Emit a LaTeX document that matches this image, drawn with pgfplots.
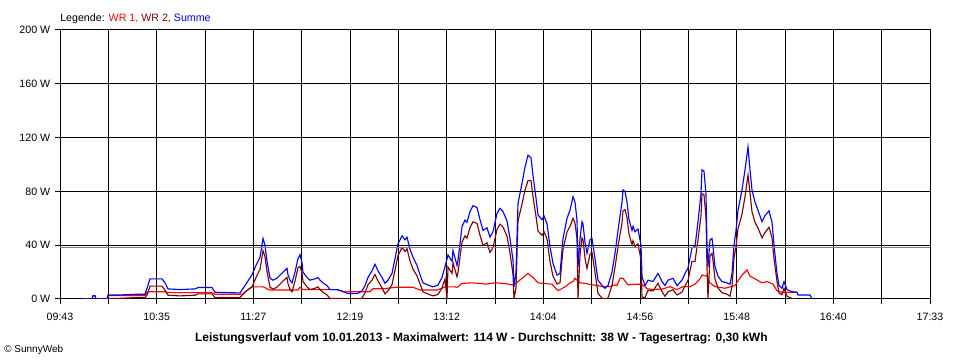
\documentclass[border=0pt]{standalone}
\usepackage{pgfplots}
\pgfplotsset{compat=1.18}
\usepackage{fontspec}
\setmainfont{Liberation Sans}
\definecolor{wrone}{HTML}{FF0000}
\definecolor{wrtwo}{HTML}{800000}
\definecolor{summe}{HTML}{0000FF}
\definecolor{avg}{HTML}{808080}
\begin{document}
\begin{tikzpicture}[x=1pt,y=1pt]
\useasboundingbox (0,0) rectangle (720,270);
\begin{axis}[
  at={(45pt,45.75pt)}, anchor=south west,
  scale only axis, width=652.5pt, height=201.75pt,
  xmin=60, xmax=930, ymin=0, ymax=200,
  xtick={60,108.33,156.67,205,253.33,301.67,350,398.33,446.67,495,543.33,591.67,640,688.33,736.67,785,833.33,881.67,930},
  xticklabels={09:43,,10:35,,11:27,,12:19,,13:12,,14:04,,14:56,,15:48,,16:40,,17:33},
  ytick={0,40,80,120,160,200},
  yticklabels={0 W,40 W,80 W,120 W,160 W,200 W},
  grid=major,
  major grid style={black, line width=0.75pt},
  axis line style={black, line width=0.75pt},
  tick style={black, line width=0.75pt},
  tick align=outside, major tick length=3.75pt,
  xtick pos=bottom, ytick pos=left,
  tick label style={font=\fontsize{8}{9}\selectfont},
  xticklabel style={yshift=-3.5pt},
  /pgf/number format/assume math mode=true,
]
\addplot[wrone, line width=0.85pt] coordinates {
(82,0)(92,0)(93,2.5)(95,2.5)(96,0)(107,0)(108,2.5)(145,2.5)(147,5)(150,5.4)(165,5.4)(168,4.7)(212,4.7)(215,3.5)(242,3.5)(245,4.7)(248,7)(252,9)(263,9)(265,8.5)(267,7.5)(270,6.7)(298,6.7)(300,8.7)(303,7)(337,7)(343,5.4)(370,5.4)(373,7.6)(383,7.6)(396,8.7)(413,8.7)(420,6.7)(437,6.7)(440,7.5)(445,9)(455,9)(457,8.5)(462,11.6)(472,12)(482,11.5)(485,11)(495,12)(505,11.5)(512,10.5)(515,11)(522,15.4)(528,19)(533,16)(538,12)(545,11.5)(552,11)(558,6.2)(565,9)(570,12)(573,13)(575,15.4)(577,14)(580,12)(585,11.6)(590,10.8)(597,10)(603,9.2)(610,9.2)(615,10.5)(617,10)(620,15.4)(623,15.4)(628,10.5)(635,11)(642,11)(647,7.7)(653,7)(663,7.5)(670,9.2)(677,7)(683,9.2)(690,9.2)(695,11)(700,15)(702,17.8)(707,17)(710,12)(715,9.2)(725,8)(735,10)(742,17.8)(747,21.6)(750,17)(755,15)(762,12)(767,13)(773,11)(777,6)(782,5)(797,5)
};
\addplot[wrtwo, line width=0.85pt] coordinates {
(82,0)(107,0)(108,0.5)(120,0.5)(135,1)(145,1)(147,3)(150,9.6)(162,9.6)(165,6.6)(168,2.8)(180,2.3)(195,2.8)(198,3.8)(212,3.8)(215,1)(240,1)(245,5.3)(252,9)(256,16)(260,22)(263,36)(265,31.5)(267,20.5)(270,8.8)(273,7.3)(277,8.8)(280,11.1)(283,13.3)(287,16.1)(288,11.3)(290,7.3)(292,5.3)(295,13.3)(298,23.3)(300,24.3)(302,19.5)(303,13)(307,9)(310,7)(315,8)(318,9)(320,7)(323,5)(327,3)(330,0.5)(337,0.5)(342,0.3)(347,0)(358,0)(362,0.6)(365,4.6)(368,10.6)(372,14.1)(375,18.2)(378,13.4)(382,8.4)(385,3.8)(388,6)(392,10.7)(395,21.4)(398,32.3)(402,38.3)(405,35.3)(407,37.3)(410,28.3)(413,22.3)(417,17.2)(420,11.3)(423,5.3)(428,3.7)(433,2.3)(438,3.4)(442,8)(445,15)(447,0)(448,23.7)(452,19)(453,27)(457,16.5)(458,20)(460,31)(462,42.2)(465,47)(467,45.2)(470,53.1)(473,57.4)(477,56.2)(480,47.4)(483,39.8)(487,41.8)(490,34.5)(493,38.2)(497,51.8)(500,55.7)(503,53.4)(507,46.7)(510,34.2)(513,18.3)(514,0)(516,8.5)(518,58)(522,70.6)(525,81)(528,88)(531,88)(533,76)(536,61.5)(538,50.5)(542,47.3)(544,50.1)(547,44.7)(550,27.9)(553,17)(557,11.1)(560,12.1)(563,36.9)(567,49.8)(570,54)(573,60)(575,56.6)(577,44.7)(578,0)(580,33)(582,45.5)(583,44.1)(585,30.4)(587,22.7)(590,33.2)(592,34.4)(595,19.8)(598,4.1)(602,0.6)(605,0)(608,0.8)(612,10.1)(615,23.5)(618,39)(622,56.6)(623,65.6)(625,66.5)(627,60.6)(629,48.4)(632,40.3)(633,43.3)(635,39)(638,41)(641,29)(642,1.5)(645,1)(648,6.4)(653,6)(658,11.7)(662,5.5)(665,2)(668,5.3)(673,6.9)(677,3)(682,5.1)(685,9.8)(688,13.8)(692,28)(695,28)(698,44)(701,62)(702,78.2)(704,77.4)(706,60.8)(707,23)(708,0.5)(710,32)(712,34)(713,28.5)(715,14.8)(718,8.2)(722,4.6)(727,3.6)(730,2)(732,9.6)(734,30.2)(736,39.2)(738,52.2)(742,63.2)(745,76)(748,92.3)(750,79)(752,64.8)(755,57)(758,52.7)(762,45.5)(765,49.4)(769,53.3)(772,45.7)(774,30)(777,13)(779,4.5)(782,3.2)(784,7.9)(787,2)(792,0.4)(795,0)
};
\addplot[summe, line width=0.85pt] coordinates {
(82,0)(92,0)(93,2.5)(95,2.5)(96,0)(107,0)(108,3)(120,3)(135,3.5)(145,3.5)(147,8)(150,15)(162,15)(165,12)(168,7.5)(180,7)(195,7.5)(198,8.5)(212,8.5)(215,5)(240,4.5)(245,10)(252,18)(256,25)(260,31)(263,45)(265,40)(267,28)(270,15.5)(273,14)(277,15.5)(280,17.8)(283,20)(287,22.8)(288,18)(290,14)(292,12)(295,20)(298,30)(300,33)(302,27)(303,20)(307,16)(310,14)(315,15)(318,16)(320,14)(323,12)(327,10)(330,7)(337,7)(342,6)(347,4.2)(353,4)(358,4.2)(362,6)(365,10)(368,16)(372,21)(375,25.8)(378,21)(382,16)(385,11.6)(388,14)(392,19)(395,30)(398,41)(402,47)(405,44)(407,46)(410,37)(413,31)(417,25)(420,18)(423,12)(428,10.4)(433,9)(438,10.4)(442,16)(445,24)(448,32.7)(452,28)(453,36)(457,25)(458,29)(460,41)(462,53.8)(465,58.7)(467,57)(470,65)(473,69.4)(477,68)(480,59)(483,51)(487,53)(490,46)(493,50)(497,63.7)(500,67.4)(503,65)(507,58)(510,45)(513,29)(514,9)(516,20)(518,71)(522,86)(525,98)(528,107)(531,105)(533,92)(536,75)(538,62.5)(542,59)(544,61.7)(547,56)(550,39)(553,26.5)(557,17.8)(560,19)(563,45)(567,60)(570,66)(573,76)(575,72)(577,58.7)(578,24)(580,45)(582,57.5)(583,56)(585,42)(587,34)(590,44)(592,45)(595,30)(598,14)(602,10)(605,8)(608,10)(612,20)(615,34)(618,51)(622,72)(623,81)(625,80)(627,72)(629,59)(632,51)(633,54)(635,50)(638,52)(641,40)(642,16.6)(645,10)(648,14)(653,13)(658,19)(662,13)(665,10)(668,14)(673,15.4)(677,10)(682,14)(685,19)(688,23)(692,38)(695,39)(698,57.5)(701,78.6)(702,96)(704,95)(706,78)(707,40)(708,24)(710,44)(712,45)(713,39)(715,24)(718,17)(722,12.9)(727,12)(730,11)(732,19)(734,40)(736,51)(738,66)(742,81)(745,96)(748,113)(750,96)(752,81)(755,72)(758,66)(762,57.5)(765,62)(769,65.6)(772,57)(774,40)(777,19)(779,10)(782,8)(784,12.9)(787,7)(792,5.4)(797,5)(798,3)(810,3)(812,0)
};
\addplot[avg, line width=0.75pt] coordinates {(60,38) (930,38)};
\end{axis}
\node[anchor=west, font=\fontsize{8}{9}\selectfont, inner sep=0pt] at (45,256) {Legende: \textcolor{wrone}{WR 1,} \textcolor{wrtwo}{WR 2,} \textcolor{summe}{Summe}};
\node[font=\bfseries\fontsize{9}{10}\selectfont, inner sep=0pt] at (361,16.5) {Leistungsverlauf vom 10.01.2013 - Maximalwert: 114 W - Durchschnitt: 38 W - Tagesertrag: 0,30 kWh};
\node[anchor=west, font=\fontsize{7.5}{9}\selectfont, inner sep=0pt] at (3,7.5) {\textcopyright\ SunnyWeb};
\end{tikzpicture}
\end{document}
